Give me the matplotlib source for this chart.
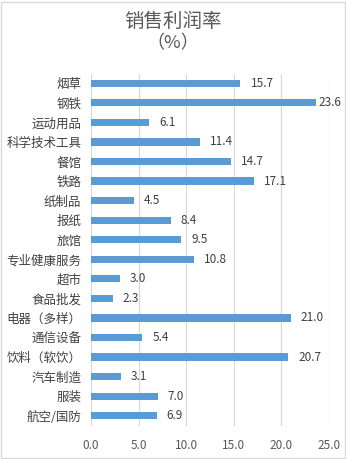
import matplotlib.pyplot as plt
from matplotlib.patches import Rectangle

plt.rcParams['font.family'] = ['Noto Sans CJK SC', 'DejaVu Sans']

# 数据（自上而下）
categories = ['烟草', '钢铁', '运动用品', '科学技术工具', '餐馆', '铁路', '纸制品', '报纸', '旅馆',
              '专业健康服务', '超市', '食品批发', '电器（多样）', '通信设备', '饮料（软饮）',
              '汽车制造', '服装', '航空/国防']
values = [15.7, 23.6, 6.1, 11.4, 14.7, 17.1, 4.5, 8.4, 9.5,
          10.8, 3.0, 2.3, 21.0, 5.4, 20.7, 3.1, 7.0, 6.9]
ticks = [0, 5, 10, 15, 20, 25]

fig = plt.figure(figsize=(3.46, 4.59), dpi=100)
ax = fig.add_axes([91 / 346, 1 - 425.5 / 459, (329 - 91) / 346, (425.5 - 73.5) / 459])

y = list(range(len(categories)))
ax.barh(y, values, height=0.37, color='#5B9BD5', zorder=3)
for yi, v in zip(y, values):
    # 标签靠近右边界时往回收（与原图一致）
    ax.text(min(v + 1.05, 23.9), yi, f'{v:.1f}', va='center', ha='left',
            fontsize=8.5, color='#404040', zorder=4)

ax.set_yticks(y)
ax.set_yticklabels(categories, fontsize=9, color='#404040')
ax.set_ylim(len(categories) - 0.5, -0.5)
ax.set_xlim(0, 25)
ax.set_xticks(ticks)
ax.set_xticklabels([f'{t:.1f}' for t in ticks], fontsize=8.5, color='#595959')
ax.tick_params(length=0, pad=7)
ax.tick_params(axis='x', pad=10)
ax.grid(axis='x', color='#D9D9D9', linewidth=0.9, zorder=0)
for s in ax.spines.values():
    s.set_visible(False)

fig.text(0.5, 1 - 21 / 459, '销售利润率', ha='center', va='center', fontsize=14, color='#595959')
fig.text(0.5, 1 - 43 / 459, '（%）', ha='center', va='center', fontsize=13, color='#595959')

# 外框
fig.patches.append(Rectangle((0.002, 0.002), 0.996, 0.994, transform=fig.transFigure,
                             fill=False, edgecolor='#D9D9D9', linewidth=1))

fig.savefig('out.png', dpi=100)
